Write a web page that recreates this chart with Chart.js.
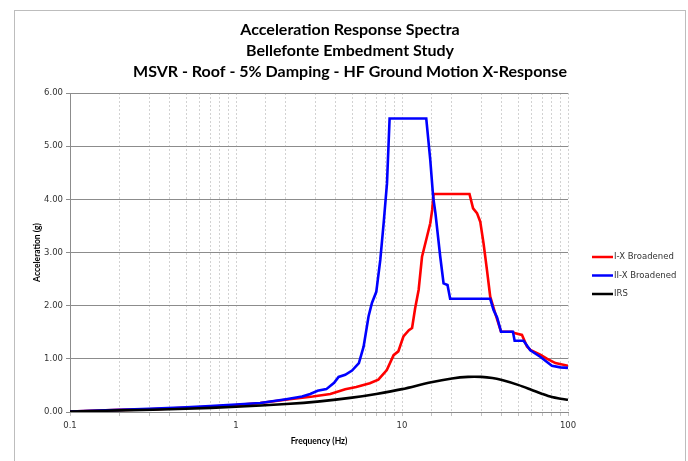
<!DOCTYPE html>
<html>
<head>
<meta charset="utf-8">
<script src="https://cdn.jsdelivr.net/npm/chart.js@4"></script>
<style>
    body { margin: 0; background: #fff; }
    #wrap { width: 688px; height: 461px; }
</style>
</head>
<body>
<div id="wrap"><canvas id="spectraChart"></canvas></div>
<script>
// Data (frequency in Hz, acceleration in g)
const titleLines = [
    'Acceleration Response Spectra',
    'Bellefonte Embedment Study',
    'MSVR - Roof - 5% Damping - HF Ground Motion X-Response'
];
const seriesNames = ['I-X Broadened', 'II-X Broadened', 'IRS'];
const seriesColors = ['#ff0000', '#0000ff', '#000000'];

const redFreq = [0.1, 0.2, 0.3, 0.5, 0.7, 1, 1.4, 2.1, 2.9, 3.7, 4.55, 5.3, 6.4, 7.2, 8.1, 8.9, 9.5, 10.2, 11.0, 11.5, 12.0, 12.6, 13.2, 14.15, 14.8, 15.2, 15.5, 25.5, 26.8, 28.3, 29.6, 31, 32.5, 34, 36.4, 39.5, 46, 48.2, 52.8, 56.6, 59.3, 68, 75, 84, 100];
const redAcc = [0.01, 0.04, 0.05, 0.08, 0.10, 0.13, 0.17, 0.24, 0.29, 0.34, 0.43, 0.47, 0.54, 0.61, 0.79, 1.07, 1.14, 1.42, 1.54, 1.58, 1.95, 2.30, 2.92, 3.30, 3.55, 3.80, 4.10, 4.10, 3.83, 3.74, 3.58, 3.17, 2.67, 2.17, 1.86, 1.51, 1.51, 1.48, 1.45, 1.23, 1.17, 1.08, 1.00, 0.92, 0.87];

const blueFreq = [0.1, 0.2, 0.3, 0.5, 0.7, 1, 1.4, 2, 2.5, 2.8, 3.1, 3.5, 3.9, 4.15, 4.55, 5.0, 5.5, 5.87, 6.29, 6.59, 7.0, 7.4, 7.75, 8.12, 8.42, 14.0, 14.8, 15.4, 15.9, 17.0, 17.8, 18.8, 19.5, 34.0, 35.6, 37.4, 39.5, 46.6, 47.7, 54, 59.3, 68, 80, 90, 100];
const blueAcc = [0.01, 0.04, 0.06, 0.09, 0.11, 0.14, 0.17, 0.24, 0.29, 0.34, 0.40, 0.43, 0.55, 0.66, 0.70, 0.78, 0.92, 1.23, 1.80, 2.05, 2.26, 2.86, 3.55, 4.30, 5.52, 5.52, 4.74, 4.05, 3.74, 2.92, 2.42, 2.39, 2.13, 2.13, 1.92, 1.78, 1.51, 1.51, 1.34, 1.34, 1.16, 1.04, 0.87, 0.84, 0.83];

const irsFreq = [0.1, 0.2, 0.5, 1, 2, 3.2, 5, 7, 10, 15, 20, 25, 30, 35, 40, 50, 60, 70, 80, 90, 100];
const irsAcc = [0.01, 0.03, 0.06, 0.10, 0.15, 0.20, 0.27, 0.34, 0.43, 0.56, 0.63, 0.66, 0.66, 0.64, 0.60, 0.51, 0.42, 0.34, 0.28, 0.25, 0.23];

const yTicks = [0, 1, 2, 3, 4, 5, 6];

function toPoints(xs, ys) {
    return xs.map((x, i) => ({ x: x, y: ys[i] }));
}

function isDecade(v) {
    const l = Math.log10(v);
    return Math.abs(l - Math.round(l)) < 1e-9;
}

// Excel-style outer frame
const frame = {
    id: 'frame',
    beforeDraw(chart) {
        const ctx = chart.ctx;
        ctx.save();
        ctx.fillStyle = '#fff';
        ctx.fillRect(0, 0, chart.width, chart.height);
        ctx.strokeStyle = '#bdbdbd';
        ctx.lineWidth = 1;
        ctx.strokeRect(14.5, 10.5, 671, 470);
        ctx.restore();
    }
};

// Legend drawn at the right, like the spreadsheet one
const sideLegend = {
    id: 'sideLegend',
    afterDraw(chart) {
        const ctx = chart.ctx;
        ctx.save();
        ctx.font = '8.5px "DejaVu Sans"';
        ctx.textBaseline = 'middle';
        chart.data.datasets.forEach((ds, i) => {
            const y = 257 + i * 18.5;
            ctx.strokeStyle = ds.borderColor;
            ctx.lineWidth = 2.5;
            ctx.beginPath();
            ctx.moveTo(592, y);
            ctx.lineTo(613, y);
            ctx.stroke();
            ctx.fillStyle = '#333';
            ctx.fillText(ds.label, 614, y);
        });
        ctx.restore();
    }
};

const ctx = document.getElementById('spectraChart').getContext('2d');
new Chart(ctx, {
    type: 'line',
    data: {
        datasets: [
            { label: seriesNames[0], data: toPoints(redFreq, redAcc), borderColor: seriesColors[0], order: 2 },
            { label: seriesNames[1], data: toPoints(blueFreq, blueAcc), borderColor: seriesColors[1], order: 1 },
            { label: seriesNames[2], data: toPoints(irsFreq, irsAcc), borderColor: seriesColors[2], order: 0, tension: 0.3 }
        ]
    },
    options: {
        responsive: true,
        maintainAspectRatio: false,
        animation: false,
        layout: { padding: { left: 12, right: 0, top: 0, bottom: 0 } },
        elements: {
            point: { radius: 0 },
            line: { borderWidth: 2.6, tension: 0, fill: false }
        },
        plugins: {
            legend: { display: false },
            tooltip: { enabled: false },
            title: {
                display: true,
                text: titleLines,
                color: '#000',
                font: { family: 'Lato', size: 16, weight: 'bold', lineHeight: 1.3125 },
                padding: { top: 19, bottom: 11 }
            }
        },
        scales: {
            x: {
                type: 'logarithmic',
                min: 0.1,
                max: 100,
                afterFit: s => { s.height = 49; },
                border: { color: '#8c8c8c', dash: [2, 2] },
                grid: { color: '#d2d2d2', tickLength: 4, tickColor: '#c4c4c4' },
                ticks: {
                    autoSkip: false,
                    maxRotation: 0,
                    padding: 5,
                    color: '#333',
                    font: { family: 'DejaVu Sans', size: 8.5 },
                    callback: v => (isDecade(v) ? String(v) : '')
                },
                title: {
                    display: true,
                    text: 'Frequency (Hz)',
                    color: '#000',
                    font: { family: 'Lato', size: 8.5, weight: 'bold' },
                    padding: { top: 0, bottom: 15 }
                }
            },
            y: {
                min: 0,
                max: 6,
                afterFit: s => { s.width = 58; },
                afterBuildTicks: s => { s.ticks = yTicks.map(v => ({ value: v })); },
                border: { color: '#8c8c8c' },
                grid: { color: '#8c8c8c', tickLength: 4 },
                ticks: {
                    padding: 3,
                    color: '#333',
                    font: { family: 'DejaVu Sans', size: 8.5 },
                    callback: v => v.toFixed(2)
                },
                title: {
                    display: true,
                    text: 'Acceleration (g)',
                    color: '#000',
                    font: { family: 'Lato', size: 8.5, weight: 'bold' },
                    padding: { top: 20, bottom: 0 }
                }
            },
            // empty axis that keeps room on the right for the legend
            legendSpace: {
                type: 'linear',
                position: 'right',
                display: true,
                afterFit: s => { s.width = 120; },
                grid: { display: false, drawTicks: false },
                border: { display: false },
                ticks: { display: false }
            }
        }
    },
    plugins: [frame, sideLegend]
});
</script>
</body>
</html>
